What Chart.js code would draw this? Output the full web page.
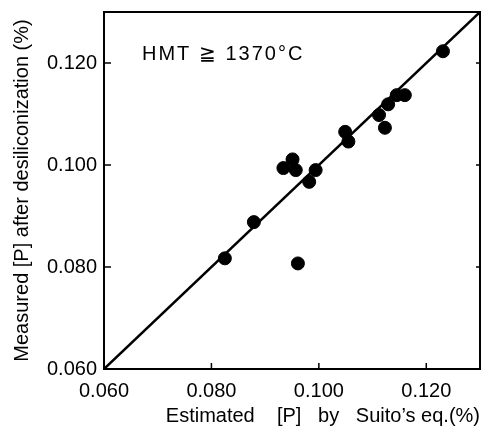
<!DOCTYPE html>
<html lang="en">
<head>
  <meta charset="UTF-8">
  <title>Measured vs estimated [P]</title>
  <script src="https://cdn.jsdelivr.net/npm/chart.js"></script>
  <style>
    * { margin: 0; padding: 0; box-sizing: border-box; }
    body { background: #fff; width: 491px; height: 434px; overflow: hidden; }
  </style>
</head>
<body>
  <canvas id="chart" width="491" height="434"></canvas>

  <script>
    // values
    const estimatedP = [0.1231, 0.1145, 0.1160, 0.1129, 0.1112, 0.1123, 0.1049, 0.1055,
                        0.0934, 0.0951, 0.0957, 0.0994, 0.0982, 0.0879, 0.0825, 0.0961];
    const measuredP  = [0.1223, 0.1137, 0.1137, 0.1119, 0.1098, 0.1073, 0.1065, 0.1046,
                        0.0994, 0.1011, 0.0990, 0.0990, 0.0967, 0.0888, 0.0817, 0.0807];
    const equalityLine = [0.060, 0.130];
    const tickValues = [0.060, 0.080, 0.100, 0.120];
    const axisMin = 0.060, axisMax = 0.130;
    const noteText = 'HMT \u2267 1370\u00B0C';

    const FONT = '"Liberation Sans", Arial, sans-serif';

    // frame, inward ticks and the HMT note
    const framePlugin = {
      id: 'frame',
      afterDraw(chart) {
        const { ctx, chartArea: a, scales } = chart;
        ctx.save();
        ctx.strokeStyle = '#000';
        ctx.lineWidth = 2;
        ctx.strokeRect(a.left, a.top, a.right - a.left, a.bottom - a.top);
        ctx.lineWidth = 1.5;
        tickValues.forEach(v => {
          const x = scales.x.getPixelForValue(v);
          const y = scales.y.getPixelForValue(v);
          ctx.beginPath();
          ctx.moveTo(x, a.bottom); ctx.lineTo(x, a.bottom - 6);
          ctx.moveTo(a.left, y); ctx.lineTo(a.left + 7, y);
          ctx.moveTo(a.right, y); ctx.lineTo(a.right - 4, y);
          ctx.stroke();
        });
        ctx.fillStyle = '#000';
        ctx.font = '20px ' + FONT;
        ctx.letterSpacing = '2px';
        ctx.textBaseline = 'alphabetic';
        ctx.fillText(noteText, a.left + 38, a.top + 48);
        ctx.restore();
      }
    };

    new Chart(document.getElementById('chart'), {
      data: {
        datasets: [
          {
            type: 'scatter',
            data: estimatedP.map((x, i) => ({ x: x, y: measuredP[i] })),
            backgroundColor: '#000',
            borderColor: '#000',
            pointRadius: 6.5,
            pointHoverRadius: 6.5
          },
          {
            type: 'line',
            data: equalityLine.map(v => ({ x: v, y: v })),
            borderColor: '#000',
            borderWidth: 2.5,
            pointRadius: 0,
            fill: false
          }
        ]
      },
      options: {
        responsive: false,
        animation: false,
        events: [],
        layout: { padding: { top: 0, right: 11, left: 0, bottom: 0 } },
        plugins: { legend: { display: false }, tooltip: { enabled: false } },
        scales: {
          x: {
            type: 'linear',
            min: axisMin,
            max: axisMax,
            afterBuildTicks: s => { s.ticks = tickValues.map(v => ({ value: v })); },
            afterFit: s => { s.height = 65; },
            grid: { display: false, drawTicks: false },
            border: { display: false },
            ticks: {
              color: '#000',
              padding: 10,
              maxRotation: 0,
              font: { family: FONT, size: 20 },
              callback: v => v.toFixed(3)
            },
            title: {
              display: true,
              text: 'Estimated    [P]   by   Suito\u2019s eq.(%)',
              align: 'end',
              color: '#000',
              font: { family: FONT, size: 20 },
              padding: { top: 0, bottom: 6 }
            }
          },
          y: {
            type: 'linear',
            min: axisMin,
            max: axisMax,
            afterBuildTicks: s => { s.ticks = tickValues.map(v => ({ value: v })); },
            afterFit: s => { s.width = 104; },
            grid: { display: false, drawTicks: false },
            border: { display: false },
            ticks: {
              color: '#000',
              padding: 7,
              font: { family: FONT, size: 20, lineHeight: 0.5 },
              callback: v => v.toFixed(3)
            },
            title: {
              display: true,
              text: 'Measured [P] after desiliconization (%)',
              color: '#000',
              font: { family: FONT, size: 20 },
              padding: { top: 10, bottom: 0 }
            }
          }
        }
      },
      plugins: [framePlugin]
    });
  </script>
</body>
</html>
